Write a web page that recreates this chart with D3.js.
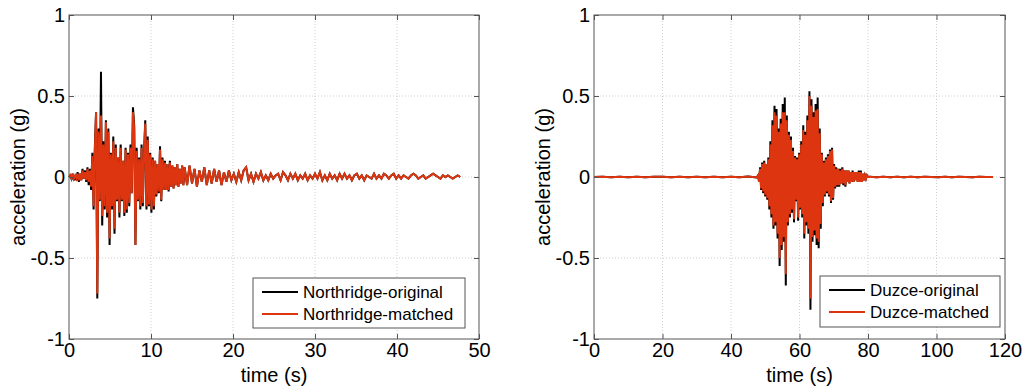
<!DOCTYPE html>
<html>
<head>
<meta charset="utf-8">
<script src="https://cdn.jsdelivr.net/npm/d3@7"></script>
<style>
  body { margin: 0; background: #fff; }
  svg { display: block; font-family: "Liberation Sans", Arial, sans-serif; }
  .tick text { fill: #000; }
</style>
</head>
<body>
<svg id="chart" width="1024" height="390"></svg>
<script>

// Northridge, strong part: starts at 0 s, dt 0.15 s
var northOriginalStrong = [
  0, 0.01, -0.01, 0.02, -0.02, 0.01, -0.02, 0.03, -0.03, 0.02,
  -0.02, 0.05, -0.01, 0.04, -0.03, 0.06, -0.05, 0.05, -0.08, 0.15,
  -0.20, 0.18, 0.40, -0.75, 0.30, -0.15, 0.65, -0.30, 0.22, -0.20,
  0.35, -0.25, 0.30, -0.42, 0.15, -0.20, 0.25, -0.35, 0.20, -0.15,
  0.12, -0.25, 0.20, -0.15, 0.10, -0.24, 0.18, -0.22, 0.15, -0.18,
  0.20, -0.10, 0.43, 0.32, -0.42, 0.18, -0.15, 0.12, -0.20, 0.20,
  -0.18, 0.15, 0.35, -0.20, 0.25, -0.18, 0.15, -0.22, 0.12, -0.20,
  0.10, -0.12, 0.08, -0.10, 0.19, -0.15, 0.12, -0.08, 0.10, -0.08,
  0.08, -0.09, 0.10, -0.06, 0.07, -0.07, 0.06, -0.05, 0.08, -0.06,
  0.05, -0.04, 0.07, -0.05
];
var northMatchedStrong = [
  0, 0.01, -0.01, 0.02, -0.01, 0.01, -0.01, 0.02, -0.02, 0.02,
  -0.02, 0.04, -0.01, 0.03, -0.02, 0.05, -0.03, 0.04, -0.06, 0.13,
  -0.18, 0.16, 0.40, -0.72, 0.28, -0.14, 0.38, -0.24, 0.20, -0.18,
  0.34, -0.22, 0.28, -0.38, 0.14, -0.18, 0.22, -0.32, 0.18, -0.14,
  0.12, -0.22, 0.18, -0.14, 0.10, -0.22, 0.17, -0.20, 0.14, -0.16,
  0.18, -0.10, 0.40, 0.30, -0.42, 0.16, -0.14, 0.11, -0.18, 0.18,
  -0.16, 0.14, 0.33, -0.18, 0.23, -0.17, 0.14, -0.20, 0.11, -0.18,
  0.10, -0.11, 0.08, -0.09, 0.17, -0.14, 0.11, -0.08, 0.09, -0.08,
  0.08, -0.08, 0.09, -0.06, 0.07, -0.07, 0.06, -0.05, 0.08, -0.06,
  0.05, -0.04, 0.07, -0.05
];
// Northridge, coda (both records overlap): starts at 14.1 s, dt 0.3 s
var northTail = [
  0.06, -0.05, 0.07, -0.04, 0.05, -0.06, 0.04, -0.03, 0.06, -0.05,
  0.04, -0.04, 0.05, -0.03, 0.04, -0.05, 0.03, -0.03, 0.04, -0.02,
  0.02, -0.03, 0.03, -0.02, 0.04, 0.06, -0.02, 0.02, -0.03, 0.02,
  -0.01, 0.03, -0.02, 0.01, -0.02, 0.02, -0.01,
  0.01, 0.02, -0.02, 0.03, 0.01, -0.02, 0.02, -0.01, 0.02, -0.02,
  0.01, -0.01, 0.02, -0.02, 0.01, -0.01,
  0.02, -0.01, 0.03, -0.02, 0.01, -0.02, 0.02, -0.01, 0.01, -0.02,
  0.02, -0.01, 0.02, -0.01, 0.01, -0.02, 0.01,
  0.02, -0.01, 0.01, -0.02, 0.01, 0.00, -0.01, 0.02, -0.01, 0.01,
  -0.01, 0.02, 0.01, -0.01, 0.01, 0.02, -0.01,
  0.01, -0.01, 0.01, 0.00, -0.01, 0.01, 0.02, 0.01, -0.01, 0.00,
  0.01, -0.01, 0.00, 0.01, 0.02, 0.01, 0.00,
  -0.01, 0.01, 0.00, 0.01, 0.00, -0.01, 0.00, 0.01, 0.00
];

// Duzce, quiet start: 0 s, dt 2.5 s
var duzcePre = [
  0, 0.002, -0.002, 0.001, -0.001, 0.002, -0.002, 0.001, 0.002, -0.001,
  0.001, -0.002, 0.002, -0.001, 0.001, -0.002, 0.002, -0.001, 0.003, -0.003
];
// Duzce, strong part: starts at 47.9 s, dt 0.3 s
var duzceOriginalStrong = [
  0.01, -0.03, 0.06, -0.08, 0.09, -0.10, 0.10, -0.12, 0.08, -0.14,
  0.12, -0.20, 0.22, -0.25, 0.35, -0.32, 0.44, -0.30, 0.42, -0.38,
  0.30, -0.55, 0.36, -0.45, 0.45, -0.40, 0.49, -0.67, 0.38, -0.30,
  0.28, -0.25, 0.25, -0.22, 0.18, -0.28, 0.13, -0.15, 0.12, -0.27,
  0.15, -0.20, 0.22, -0.25, 0.32, -0.38, 0.28, -0.30, 0.38, -0.35,
  0.53, -0.82, 0.48, -0.40, 0.40, -0.36, 0.45, -0.42, 0.49, -0.44,
  0.30, -0.32, 0.15, -0.18, 0.10, -0.12, 0.12, -0.10, 0.14, -0.12,
  0.17, -0.16, 0.18, -0.14, 0.08, -0.07, 0.06, -0.06, 0.05, -0.06,
  0.05, -0.04, 0.06, -0.05, 0.04, -0.06, 0.04, -0.03, 0.04, -0.04,
  0.03, -0.03, 0.04, -0.03, 0.03, -0.02, 0.03, -0.03, 0.04, -0.03,
  0.04, -0.03, 0.02, -0.02, 0.01, -0.01, 0.01, 0.00
];
var duzceMatchedStrong = [
  0.01, -0.03, 0.05, -0.07, 0.08, -0.09, 0.09, -0.11, 0.08, -0.13,
  0.11, -0.18, 0.20, -0.23, 0.32, -0.30, 0.40, -0.28, 0.38, -0.35,
  0.28, -0.50, 0.33, -0.42, 0.40, -0.37, 0.40, -0.60, 0.35, -0.28,
  0.26, -0.23, 0.23, -0.20, 0.16, -0.26, 0.12, -0.14, 0.11, -0.25,
  0.14, -0.19, 0.20, -0.23, 0.29, -0.35, 0.26, -0.28, 0.35, -0.32,
  0.50, -0.75, 0.44, -0.37, 0.37, -0.33, 0.41, -0.38, 0.42, -0.40,
  0.27, -0.29, 0.14, -0.16, 0.09, -0.11, 0.11, -0.09, 0.13, -0.11,
  0.16, -0.15, 0.17, -0.13, 0.07, -0.06, 0.05, -0.05, 0.05, -0.05,
  0.04, -0.04, 0.05, -0.04, 0.04, -0.05, 0.04, -0.03, 0.04, -0.04,
  0.03, -0.03, 0.03, -0.03, 0.03, -0.02, 0.03, -0.03, 0.03, -0.03,
  0.03, -0.03, 0.02, -0.02, 0.01, -0.01, 0.01, 0.00
];
// Duzce, quiet end: starts at 80.5 s, dt 2 s
var duzcePost = [
  0.002, -0.002, 0.001, -0.001, 0.002, -0.001, 0.001, -0.002, 0.001, 0,
  -0.001, 0.001, -0.001, 0.001, 0, -0.001, 0.001, 0, 0
];

var northTicksX = [0, 10, 20, 30, 40, 50];
var duzceTicksX = [0, 20, 40, 60, 80, 100, 120];
var ticksY = [-1, -0.5, 0, 0.5, 1];
var legendNorth = ["Northridge-original", "Northridge-matched"];
var legendDuzce = ["Duzce-original", "Duzce-matched"];

var colOriginal = "#000000";
var colMatched = "#dd3510";

// turn {t0, dt, values} pieces into [t, a] points
function toPoints(pieces) {
  var pts = [];
  pieces.forEach(function (p) {
    p.values.forEach(function (v, i) { pts.push([p.t0 + i * p.dt, v]); });
  });
  return pts;
}

var panels = [
  {
    left: 69, right: 479, xMax: 50, xTicks: northTicksX, legend: legendNorth,
    legendBox: { x: 253, y: 278, w: 212, h: 50 },
    original: toPoints([
      { t0: 0, dt: 0.15, values: northOriginalStrong },
      { t0: 14.1, dt: 0.3, values: northTail }]),
    matched: toPoints([
      { t0: 0, dt: 0.15, values: northMatchedStrong },
      { t0: 14.1, dt: 0.3, values: northTail }])
  },
  {
    left: 594, right: 1005, xMax: 120, xTicks: duzceTicksX, legend: legendDuzce,
    legendBox: { x: 820, y: 276, w: 180, h: 51 },
    original: toPoints([
      { t0: 0, dt: 2.5, values: duzcePre },
      { t0: 47.9, dt: 0.3, values: duzceOriginalStrong },
      { t0: 80.5, dt: 2, values: duzcePost }]),
    matched: toPoints([
      { t0: 0, dt: 2.5, values: duzcePre },
      { t0: 47.9, dt: 0.3, values: duzceMatchedStrong },
      { t0: 80.5, dt: 2, values: duzcePost }])
  }
];

var plotTop = 15, plotBottom = 339;
var svg = d3.select("#chart");

panels.forEach(function (p) {
  var x = d3.scaleLinear().domain([0, p.xMax]).range([p.left, p.right]);
  var y = d3.scaleLinear().domain([-1, 1]).range([plotBottom, plotTop]);
  var g = svg.append("g");

  // dotted grid
  g.selectAll(".gx").data(p.xTicks.slice(1, -1)).enter().append("line")
    .attr("x1", d => x(d)).attr("x2", d => x(d))
    .attr("y1", plotTop).attr("y2", plotBottom)
    .attr("stroke", "#cfcfcf").attr("stroke-width", 1)
    .attr("stroke-dasharray", "1,2");
  g.selectAll(".gy").data(ticksY.slice(1, -1)).enter().append("line")
    .attr("x1", p.left).attr("x2", p.right)
    .attr("y1", d => y(d)).attr("y2", d => y(d))
    .attr("stroke", "#cfcfcf").attr("stroke-width", 1)
    .attr("stroke-dasharray", "1,2");

  // records
  var line = d3.line().x(d => x(d[0])).y(d => y(d[1]));
  g.append("path").datum(p.original).attr("d", line)
    .attr("fill", "none").attr("stroke", colOriginal).attr("stroke-width", 2);
  g.append("path").datum(p.matched).attr("d", line)
    .attr("fill", "none").attr("stroke", colMatched).attr("stroke-width", 2);

  // axes with inward ticks on all four sides
  var xb = g.append("g").attr("transform", "translate(0," + plotBottom + ")")
    .call(d3.axisBottom(x).tickValues(p.xTicks).tickSizeInner(-5).tickSizeOuter(0).tickPadding(4));
  g.append("g").attr("transform", "translate(0," + plotTop + ")")
    .call(d3.axisTop(x).tickValues(p.xTicks).tickSizeInner(-5).tickSizeOuter(0).tickFormat(""));
  var yl = g.append("g").attr("transform", "translate(" + p.left + ",0)")
    .call(d3.axisLeft(y).tickValues(ticksY).tickSizeInner(-5).tickSizeOuter(0).tickPadding(4)
      .tickFormat(d => String(d)));
  g.append("g").attr("transform", "translate(" + p.right + ",0)")
    .call(d3.axisRight(y).tickValues(ticksY).tickSizeInner(-5).tickSizeOuter(0).tickFormat(""));

  g.selectAll(".domain").remove();
  g.selectAll(".tick line").attr("stroke", "#555");
  xb.selectAll("text").attr("font-size", 20).attr("font-family", "Liberation Sans, Arial, sans-serif");
  yl.selectAll("text").attr("font-size", 20).attr("font-family", "Liberation Sans, Arial, sans-serif");

  g.append("rect")
    .attr("x", p.left).attr("y", plotTop)
    .attr("width", p.right - p.left).attr("height", plotBottom - plotTop)
    .attr("fill", "none").attr("stroke", "#555").attr("stroke-width", 1);

  // axis titles
  g.append("text")
    .attr("x", (p.left + p.right) / 2).attr("y", 382)
    .attr("text-anchor", "middle").attr("font-size", 20)
    .text("time (s)");
  g.append("text")
    .attr("transform", "translate(" + (p.left - 44) + "," + (plotTop + plotBottom) / 2 + ") rotate(-90)")
    .attr("text-anchor", "middle").attr("font-size", 20)
    .text("acceleration (g)");

  // legend
  var lb = p.legendBox;
  var lg = g.append("g");
  lg.append("rect").attr("x", lb.x).attr("y", lb.y).attr("width", lb.w).attr("height", lb.h)
    .attr("fill", "#fff").attr("stroke", "#555").attr("stroke-width", 1);
  [colOriginal, colMatched].forEach(function (c, i) {
    var cy = lb.y + 14 + i * 22;
    lg.append("line").attr("x1", lb.x + 9).attr("x2", lb.x + 45)
      .attr("y1", cy).attr("y2", cy).attr("stroke", c).attr("stroke-width", 2);
    lg.append("text").attr("x", lb.x + 50).attr("y", cy + 6)
      .attr("font-size", 17).text(p.legend[i]);
  });
});
</script>
</body>
</html>
